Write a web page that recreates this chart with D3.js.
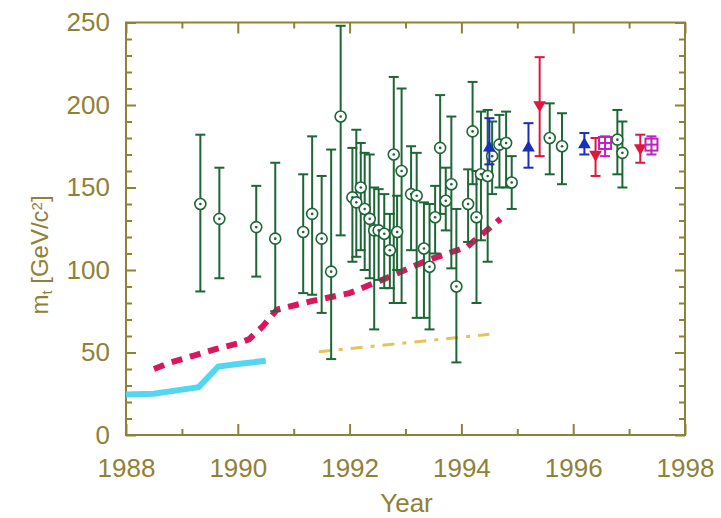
<!DOCTYPE html>
<html>
<head>
<meta charset="utf-8">
<script src="https://cdn.jsdelivr.net/npm/d3@7"></script>
<style>
  body { margin: 0; background: #fff; }
  svg { display: block; font-family: "Liberation Sans", Arial, sans-serif; }
</style>
</head>
<body>
<svg id="chart" width="721" height="518"></svg>
<script>
// direct measurements (green open circles): year, central value, upper end, lower end
const measYear = [1989.33, 1989.67, 1990.33, 1990.67, 1991.17, 1991.33, 1991.5, 1991.67, 1991.84,
  1992.05, 1992.12, 1992.2, 1992.27, 1992.36, 1992.44, 1992.52, 1992.62, 1992.72, 1992.79, 1992.85, 1992.93,
  1993.1, 1993.2, 1993.33, 1993.43, 1993.53, 1993.62, 1993.72, 1993.82, 1993.91,
  1994.12, 1994.2, 1994.27, 1994.35, 1994.47, 1994.55, 1994.68, 1994.8, 1994.9,
  1995.58, 1995.8, 1996.79, 1996.88]
const measMass = [140, 131, 126, 119, 123, 134, 119, 99, 193,
  144, 141, 150, 137, 131, 124, 124, 122, 112, 170, 123, 160,
  146, 145, 113, 102, 132, 174, 142, 152, 90,
  140, 184, 132, 158, 157, 169, 176, 177, 153,
  180, 175, 179, 171]
const measHi = [182, 162, 151, 165, 158, 181, 157, 173, 248,
  174, 185, 177, 171, 170, 150, 149, 146, 134, 217, 145, 210,
  175, 171, 141, 140, 151, 206, 162, 193, 137,
  161, 214, 160, 196, 197, 190, 194, 196, 169,
  201, 195, 197, 190]
const measLo = [87, 95, 96, 75, 86, 85, 74, 46, 121,
  105, 108, 112, 100, 95, 64, 94, 89, 89, 80, 100, 80,
  112, 71, 71, 64, 110, 134, 124, 101, 44,
  117, 152, 80, 118, 105, 146, 150, 150, 137,
  158, 152, 158, 150]

// CDF (blue up triangles)
const cdfYear = [1994.5, 1995.2, 1996.2]
const cdfMass = [174, 174, 176]
const cdfHi = [192, 189, 183]
const cdfLo = [164, 162, 170]

// D0 (red down triangles)
const d0Year = [1995.4, 1996.4, 1997.2]
const d0Mass = [200, 170, 174]
const d0Hi = [229, 180, 182]
const d0Lo = [169, 157, 165]

// combined (magenta boxes)
const combYear = [1996.57, 1997.4]
const combMass = [177, 176]
const combHi = [181, 181]
const combLo = [169, 170]

// lower limits
const limitAYear = [1988.0, 1988.5, 1989.0, 1989.3, 1989.65, 1990.0, 1990.5]
const limitAMass = [24.5, 25, 27.5, 29, 41.5, 43, 45]
const limitBYear = [1988.5, 1988.8, 1989.2, 1989.6, 1990.0, 1990.2, 1990.45, 1990.7, 1991.3, 1992.0, 1992.65, 1993.4, 1994.1, 1994.7]
const limitBMass = [40, 44, 48, 52, 55.5, 58, 66, 76, 81, 86, 95, 106, 114, 131]
const limitCYear = [1991.45, 1994.5]
const limitCMass = [50.5, 61]

const xTicks = [1988, 1990, 1992, 1994, 1996, 1998]
const yTicks = [0, 50, 100, 150, 200, 250]

const olive = '#8f8237'
const svg = d3.select('#chart')
const mLeft = 126, mRight = 685, mTop = 22.5, mBottom = 435

const x = d3.scaleLinear().domain([1988, 1998]).range([mLeft, mRight])
const y = d3.scaleLinear().domain([0, 250]).range([mBottom, mTop])

// axes with inward ticks
function styleAxis(g) {
  g.select('.domain').remove()
  g.selectAll('line').attr('stroke', olive).attr('stroke-width', 2)
  g.selectAll('text').attr('fill', olive).style('font-size', '26px')
}
const minorX = d3.range(1989, 1998, 2)
const minorY = d3.range(10, 250, 10).filter(v => v % 50)
svg.append('g').attr('transform', `translate(0,${mBottom})`)
  .call(d3.axisBottom(x).tickValues(xTicks).tickFormat(d3.format('d')).tickSize(-11).tickPadding(24))
  .call(styleAxis)
svg.append('g').attr('transform', `translate(0,${mBottom})`)
  .call(d3.axisBottom(x).tickValues(minorX).tickFormat('').tickSize(-6))
  .call(styleAxis)
svg.append('g').attr('transform', `translate(0,${mTop})`)
  .call(d3.axisTop(x).tickValues(xTicks).tickFormat('').tickSize(-11))
  .call(styleAxis)
svg.append('g').attr('transform', `translate(0,${mTop})`)
  .call(d3.axisTop(x).tickValues(minorX).tickFormat('').tickSize(-6))
  .call(styleAxis)
svg.append('g').attr('transform', `translate(${mLeft},0)`)
  .call(d3.axisLeft(y).tickValues(yTicks).tickSize(-10).tickPadding(16))
  .call(styleAxis)
svg.append('g').attr('transform', `translate(${mLeft},0)`)
  .call(d3.axisLeft(y).tickValues(minorY).tickFormat('').tickSize(-6))
  .call(styleAxis)
svg.append('g').attr('transform', `translate(${mRight},0)`)
  .call(d3.axisRight(y).tickValues(yTicks).tickFormat('').tickSize(-10))
  .call(styleAxis)
svg.append('g').attr('transform', `translate(${mRight},0)`)
  .call(d3.axisRight(y).tickValues(minorY).tickFormat('').tickSize(-6))
  .call(styleAxis)

svg.append('rect')
  .attr('x', mLeft).attr('y', mTop)
  .attr('width', mRight - mLeft).attr('height', mBottom - mTop)
  .attr('fill', 'none').attr('stroke', olive).attr('stroke-width', 2)

// titles
svg.append('text')
  .attr('x', (mLeft + mRight) / 2 + 1).attr('y', 512)
  .attr('text-anchor', 'middle').attr('fill', olive).style('font-size', '26px')
  .text('Year')
const yt = svg.append('text')
  .attr('transform', 'translate(48,255) rotate(-90)')
  .attr('text-anchor', 'middle').attr('fill', olive).style('font-size', '24px')
yt.append('tspan').text('m')
yt.append('tspan').attr('baseline-shift', '-25%').style('font-size', '15px').text('t')
yt.append('tspan').text(' [GeV/c')
yt.append('tspan').attr('baseline-shift', '40%').style('font-size', '15px').text('2')
yt.append('tspan').text(']')

// limit curves
const line = d3.line().x(d => x(d[0])).y(d => y(d[1]))
svg.append('path')
  .attr('d', line(limitAYear.map((v, i) => [v, limitAMass[i]])))
  .attr('fill', 'none').attr('stroke', '#52d6f2').attr('stroke-width', 6)
svg.append('path')
  .attr('d', line(limitBYear.map((v, i) => [v, limitBMass[i]])))
  .attr('fill', 'none').attr('stroke', '#d8175f').attr('stroke-width', 6)
  .attr('stroke-dasharray', '11,8')
svg.append('path')
  .attr('d', line(limitCYear.map((v, i) => [v, limitCMass[i]])))
  .attr('fill', 'none').attr('stroke', '#e6c35a').attr('stroke-width', 3)
  .attr('stroke-dasharray', '12,8,4,8')

function errorBars(years, lo, hi, color) {
  const g = svg.append('g').attr('stroke', color).attr('stroke-width', 2)
  years.forEach((yr, i) => {
    g.append('line').attr('x1', x(yr)).attr('x2', x(yr)).attr('y1', y(lo[i])).attr('y2', y(hi[i]))
    g.append('line').attr('x1', x(yr) - 5).attr('x2', x(yr) + 5).attr('y1', y(lo[i])).attr('y2', y(lo[i]))
    g.append('line').attr('x1', x(yr) - 5).attr('x2', x(yr) + 5).attr('y1', y(hi[i])).attr('y2', y(hi[i]))
  })
}

// green measurements
const green = '#1d6636'
errorBars(measYear, measLo, measHi, green)
const gm = svg.append('g')
measYear.forEach((yr, i) => {
  gm.append('circle').attr('cx', x(yr)).attr('cy', y(measMass[i])).attr('r', 5.5)
    .attr('fill', '#fff').attr('stroke', green).attr('stroke-width', 1.6)
  gm.append('circle').attr('cx', x(yr)).attr('cy', y(measMass[i])).attr('r', 1.3)
    .attr('fill', green)
})

// CDF
errorBars(cdfYear, cdfLo, cdfHi, '#1a2fb8')
svg.append('g').selectAll('path').data(cdfYear).join('path')
  .attr('transform', (d, i) => `translate(${x(d)},${y(cdfMass[i])})`)
  .attr('d', d3.symbol(d3.symbolTriangle, 70))
  .attr('fill', '#1a2fb8')

// D0
errorBars(d0Year, d0Lo, d0Hi, '#e0163c')
svg.append('g').selectAll('path').data(d0Year).join('path')
  .attr('transform', (d, i) => `translate(${x(d)},${y(d0Mass[i])}) rotate(180)`)
  .attr('d', d3.symbol(d3.symbolTriangle, 70))
  .attr('fill', '#e0163c')

// combined
errorBars(combYear, combLo, combHi, '#c21fc2')
const cm = svg.append('g').attr('stroke', '#c21fc2').attr('stroke-width', 2).attr('fill', '#fff')
combYear.forEach((yr, i) => {
  const cx = x(yr), cy = y(combMass[i])
  cm.append('rect').attr('x', cx - 6).attr('y', cy - 6).attr('width', 12).attr('height', 12)
  cm.append('line').attr('x1', cx - 6).attr('x2', cx + 6).attr('y1', cy).attr('y2', cy)
  cm.append('line').attr('x1', cx).attr('x2', cx).attr('y1', cy - 6).attr('y2', cy + 6)
})
</script>
</body>
</html>
